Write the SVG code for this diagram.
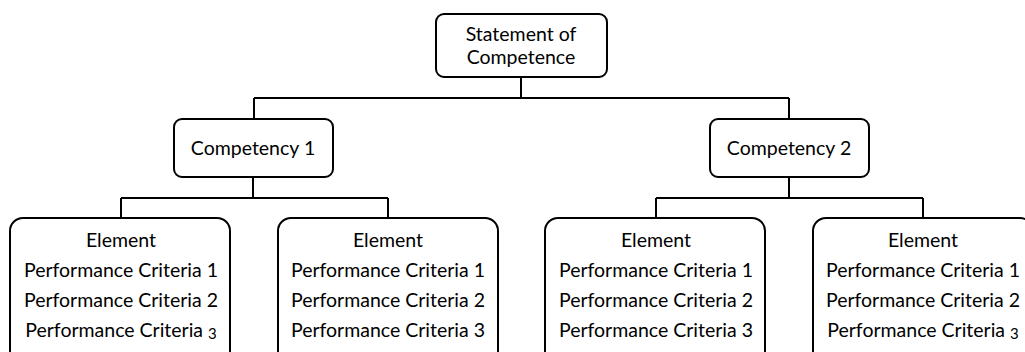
<svg xmlns="http://www.w3.org/2000/svg" width="1025" height="352" viewBox="0 0 1025 352">
<style>
.box{fill:#fff;stroke:#000;stroke-width:2}
.ln{fill:none;stroke:#000;stroke-width:2}
text{font-family:Lato,"Open Sans","Liberation Sans",sans-serif;font-size:19.5px;fill:#000;text-anchor:middle}
.os{font-size:15px}
</style>
<rect width="1025" height="352" fill="#fff"/>
<g id="connectors">
<path class="ln" d="M521,77V98M254,98H789M254,98V119M789,98V119"/>
<path class="ln" d="M253,177V198M121,198H388M121,198V218M388,198V218"/>
<path class="ln" d="M789,177V198M656,198H923M656,198V218M923,198V218"/>
</g>
<g id="statement">
<rect class="box" x="436" y="14" width="171" height="63" rx="8"/>
<text x="521" y="41">Statement of</text>
<text x="521" y="64">Competence</text>
</g>
<g id="competency1">
<rect class="box" x="174" y="119" width="159" height="58" rx="8"/>
<text x="253" y="155">Competency 1</text>
</g>
<g id="competency2">
<rect class="box" x="710" y="119" width="159" height="58" rx="8"/>
<text x="789" y="155">Competency 2</text>
</g>
<g id="element1">
<rect class="box" x="10" y="218" width="220" height="150" rx="13"/>
<text x="121" y="247">Element</text>
<text x="121" y="277">Performance Criteria 1</text>
<text x="121" y="307">Performance Criteria 2</text>
<text x="121" y="337">Performance Criteria <tspan class="os" dy="2">3</tspan></text>
</g>
<g id="element2">
<rect class="box" x="278" y="218" width="220" height="150" rx="13"/>
<text x="388" y="247">Element</text>
<text x="388" y="277">Performance Criteria 1</text>
<text x="388" y="307">Performance Criteria 2</text>
<text x="388" y="337">Performance Criteria 3</text>
</g>
<g id="element3">
<rect class="box" x="545" y="218" width="220" height="150" rx="13"/>
<text x="656" y="247">Element</text>
<text x="656" y="277">Performance Criteria 1</text>
<text x="656" y="307">Performance Criteria 2</text>
<text x="656" y="337">Performance Criteria 3</text>
</g>
<g id="element4">
<rect class="box" x="813" y="218" width="220" height="150" rx="13"/>
<text x="923" y="247">Element</text>
<text x="923" y="277">Performance Criteria 1</text>
<text x="923" y="307">Performance Criteria 2</text>
<text x="923" y="337">Performance Criteria <tspan class="os" dy="2">3</tspan></text>
</g>
</svg>
